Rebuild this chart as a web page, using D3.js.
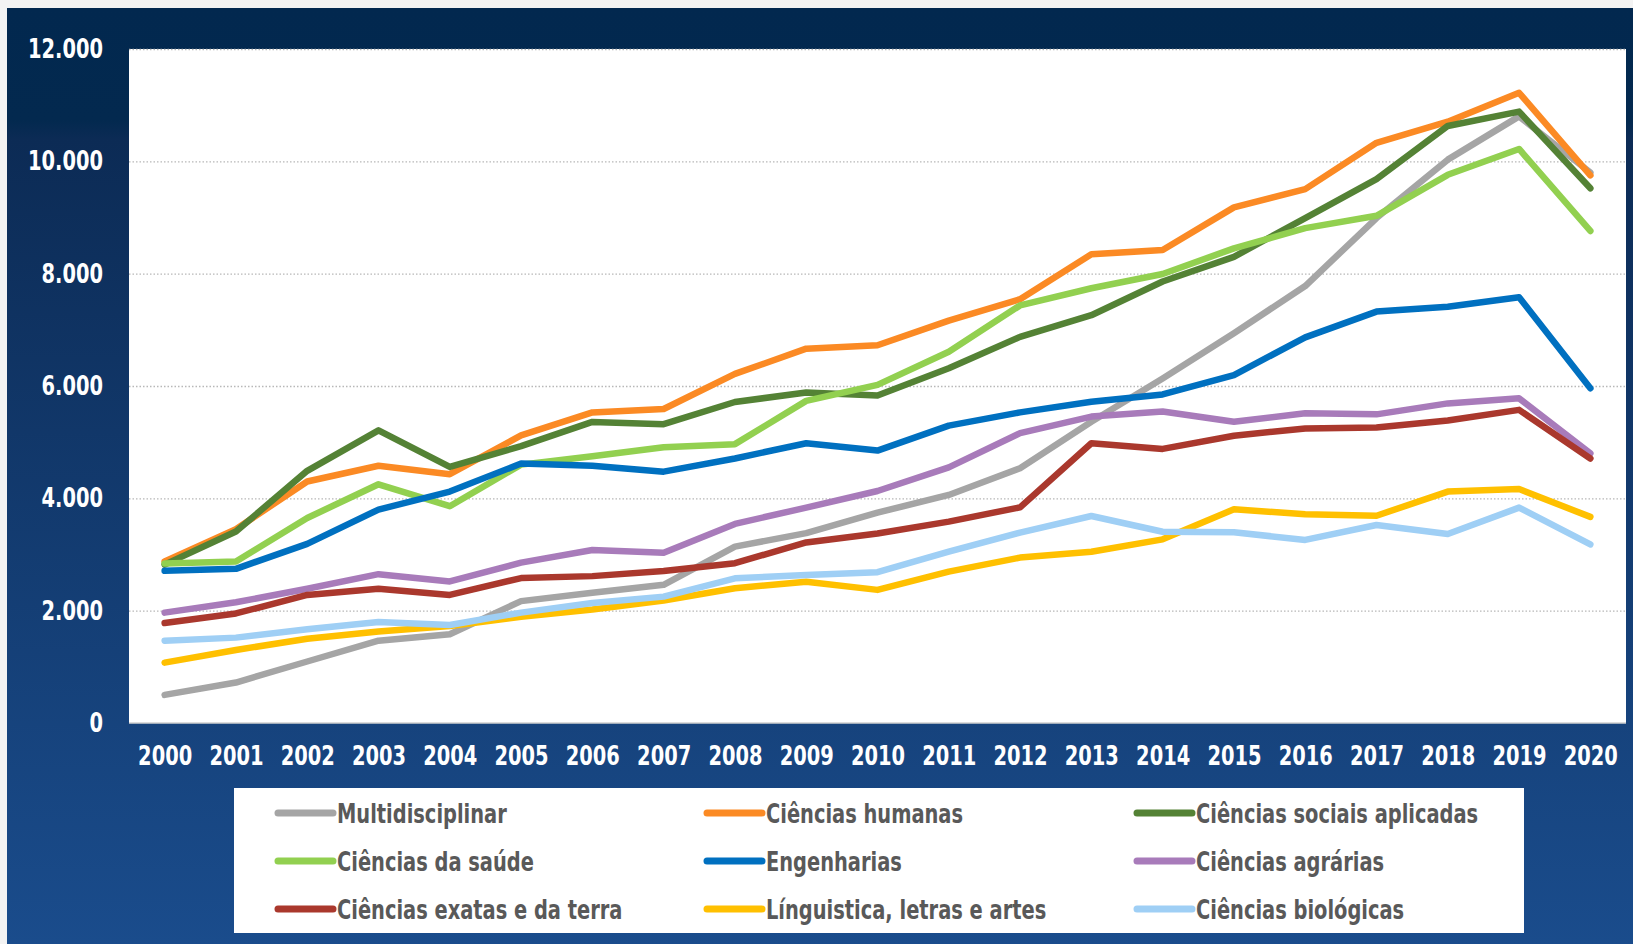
<!DOCTYPE html>
<html>
<head>
<meta charset="utf-8">
<script src="https://cdn.jsdelivr.net/npm/d3@7"></script>
<style>
  html, body { margin: 0; padding: 0; background: #f3f3f3; }
  svg { display: block; }
  .lbl { font-family: "DejaVu Sans Condensed", "DejaVu Sans", sans-serif; font-weight: bold; }
</style>
</head>
<body>
<div id="chart"></div>
<script>
// data

const years = ["2000","2001","2002","2003","2004","2005","2006","2007","2008","2009","2010",
               "2011","2012","2013","2014","2015","2016","2017","2018","2019","2020"];

const yTicks = [0, 2000, 4000, 6000, 8000, 10000, 12000];

const multidisciplinar = [500, 720, 1095, 1465, 1580, 2170, 2320, 2460, 3140, 3380, 3745, 4060, 4535, 5365, 6135, 6940, 7780, 8990, 10030, 10800, 9800];
const humanas          = [2875, 3450, 4300, 4580, 4430, 5120, 5530, 5590, 6215, 6665, 6725, 7165, 7545, 8345, 8420, 9180, 9505, 10330, 10705, 11220, 9750];
const sociais          = [2820, 3410, 4490, 5210, 4560, 4930, 5360, 5320, 5715, 5885, 5830, 6315, 6875, 7260, 7860, 8300, 8990, 9685, 10630, 10885, 9520];
const saude            = [2840, 2875, 3650, 4250, 3860, 4600, 4750, 4910, 4965, 5735, 6020, 6610, 7435, 7740, 7995, 8450, 8810, 9030, 9760, 10220, 8760];
const engenharias      = [2710, 2745, 3190, 3800, 4120, 4620, 4580, 4475, 4710, 4980, 4850, 5295, 5530, 5720, 5850, 6195, 6865, 7325, 7410, 7580, 5960];
const agrarias         = [1965, 2150, 2390, 2650, 2520, 2855, 3080, 3030, 3545, 3835, 4130, 4550, 5160, 5455, 5545, 5365, 5515, 5495, 5690, 5780, 4800];
const exatas           = [1780, 1950, 2280, 2390, 2280, 2580, 2615, 2705, 2845, 3215, 3375, 3585, 3840, 4980, 4880, 5115, 5245, 5260, 5385, 5575, 4710];
const linguistica      = [1075, 1300, 1500, 1630, 1725, 1890, 2020, 2180, 2400, 2515, 2370, 2695, 2945, 3050, 3270, 3805, 3715, 3690, 4120, 4165, 3670];
const biologicas       = [1465, 1520, 1670, 1800, 1745, 1965, 2135, 2250, 2575, 2635, 2685, 3050, 3390, 3685, 3405, 3395, 3260, 3525, 3365, 3835, 3180];

const seriesNames = ["Multidisciplinar", "Ciências humanas", "Ciências sociais aplicadas",
                     "Ciências da saúde", "Engenharias", "Ciências agrárias",
                     "Ciências exatas e da terra", "Línguistica, letras e artes", "Ciências biológicas"];
const seriesValues = [multidisciplinar, humanas, sociais, saude, engenharias, agrarias, exatas, linguistica, biologicas];
const seriesColors = ["#a5a5a5", "#fb8a24", "#548235", "#92d050", "#0070c0", "#a87bba", "#aa382d", "#ffc000", "#9fcff5"];

// layout

const W = 1633, H = 944;
const plot = { left: 129, top: 49, right: 1626, bottom: 723 };
const squeeze = 0.8; // the original font is a narrow one, so condense the text horizontally

const svg = d3.select("#chart")
  .append("svg")
    .attr("width", W)
    .attr("height", H);

// background panel with vertical gradient
const grad = svg.append("defs").append("linearGradient")
    .attr("id", "bg")
    .attr("x1", 0).attr("y1", 0).attr("x2", 0).attr("y2", 1);
grad.append("stop").attr("offset", "0%").attr("stop-color", "#02284f");
grad.append("stop").attr("offset", "12%").attr("stop-color", "#03294f");
grad.append("stop").attr("offset", "14%").attr("stop-color", "#0c2b55");
grad.append("stop").attr("offset", "100%").attr("stop-color", "#1a4c8c");

svg.append("rect")
    .attr("x", 7).attr("y", 8)
    .attr("width", W - 7).attr("height", H - 8)
    .attr("fill", "url(#bg)");

svg.append("rect")
    .attr("x", plot.left).attr("y", plot.top)
    .attr("width", plot.right - plot.left).attr("height", plot.bottom - plot.top)
    .attr("fill", "#ffffff");

// scales

const x = d3.scalePoint()
    .domain(years)
    .range([plot.left, plot.right])
    .padding(0.5);

const y = d3.scaleLinear()
    .domain([0, 12000])
    .range([plot.bottom, plot.top]);

const ptBR = d3.formatLocale({ decimal: ",", thousands: ".", grouping: [3], currency: ["R$", ""] });
const fmt = ptBR.format(",d");

// gridlines

svg.append("g")
    .attr("transform", `translate(${plot.left},0)`)
    .call(d3.axisLeft(y).tickValues(yTicks.filter(d => d > 0)).tickSize(-(plot.right - plot.left)).tickFormat(""))
    .call(g => g.select(".domain").remove())
    .call(g => g.selectAll("line")
        .attr("stroke", "#b8b8b8")
        .attr("stroke-width", 1.3)
        .attr("stroke-dasharray", "1.5,2"));

// baseline
svg.append("line")
    .attr("x1", plot.left).attr("x2", plot.right)
    .attr("y1", plot.bottom).attr("y2", plot.bottom)
    .attr("stroke", "#d0d0d0")
    .attr("stroke-width", 1.5);

// y-axis

svg.append("g")
    .attr("transform", `translate(${plot.left},0)`)
    .call(d3.axisLeft(y).tickValues(yTicks).tickSize(0).tickPadding(26).tickFormat(fmt))
    .call(g => g.select(".domain").remove())
    .call(g => g.selectAll("text")
        .attr("class", "lbl")
        .attr("fill", "#ffffff")
        .attr("x", -26 / squeeze)
        .attr("transform", `scale(${squeeze},1)`)
        .style("font-size", "27px"));

// x-axis

svg.append("g")
    .attr("transform", `translate(0,${plot.bottom})`)
    .call(d3.axisBottom(x).tickSize(0).tickPadding(23))
    .call(g => g.select(".domain").remove())
    .call(g => g.selectAll("text")
        .attr("class", "lbl")
        .attr("fill", "#ffffff")
        .attr("transform", `scale(${squeeze},1)`)
        .style("font-size", "27px"));

// lines

const line = d3.line()
    .x((d, i) => x(years[i]))
    .y(d => y(d));

svg.append("g")
  .selectAll("path")
  .data(seriesValues)
  .join("path")
    .attr("fill", "none")
    .attr("stroke", (d, i) => seriesColors[i])
    .attr("stroke-width", 6.5)
    .attr("stroke-linejoin", "round")
    .attr("stroke-linecap", "round")
    .attr("d", line);

// legend

const legend = { left: 234, top: 788, right: 1524, bottom: 933 };
svg.append("rect")
    .attr("x", legend.left).attr("y", legend.top)
    .attr("width", legend.right - legend.left).attr("height", legend.bottom - legend.top)
    .attr("fill", "#ffffff");

const colX = [278, 707, 1137];
const rowY = [813, 861, 909];

const item = svg.append("g")
  .selectAll("g")
  .data(seriesNames)
  .join("g")
    .attr("transform", (d, i) => `translate(${colX[i % 3]},${rowY[Math.floor(i / 3)]})`);

item.append("line")
    .attr("x1", 0).attr("x2", 55)
    .attr("stroke", (d, i) => seriesColors[i])
    .attr("stroke-width", 7)
    .attr("stroke-linecap", "round");

item.append("text")
    .attr("class", "lbl")
    .attr("x", 59 / squeeze)
    .attr("dy", "0.36em")
    .attr("transform", `scale(${squeeze},1)`)
    .attr("fill", "#595959")
    .style("font-size", "27px")
    .text(d => d);
</script>
</body>
</html>
